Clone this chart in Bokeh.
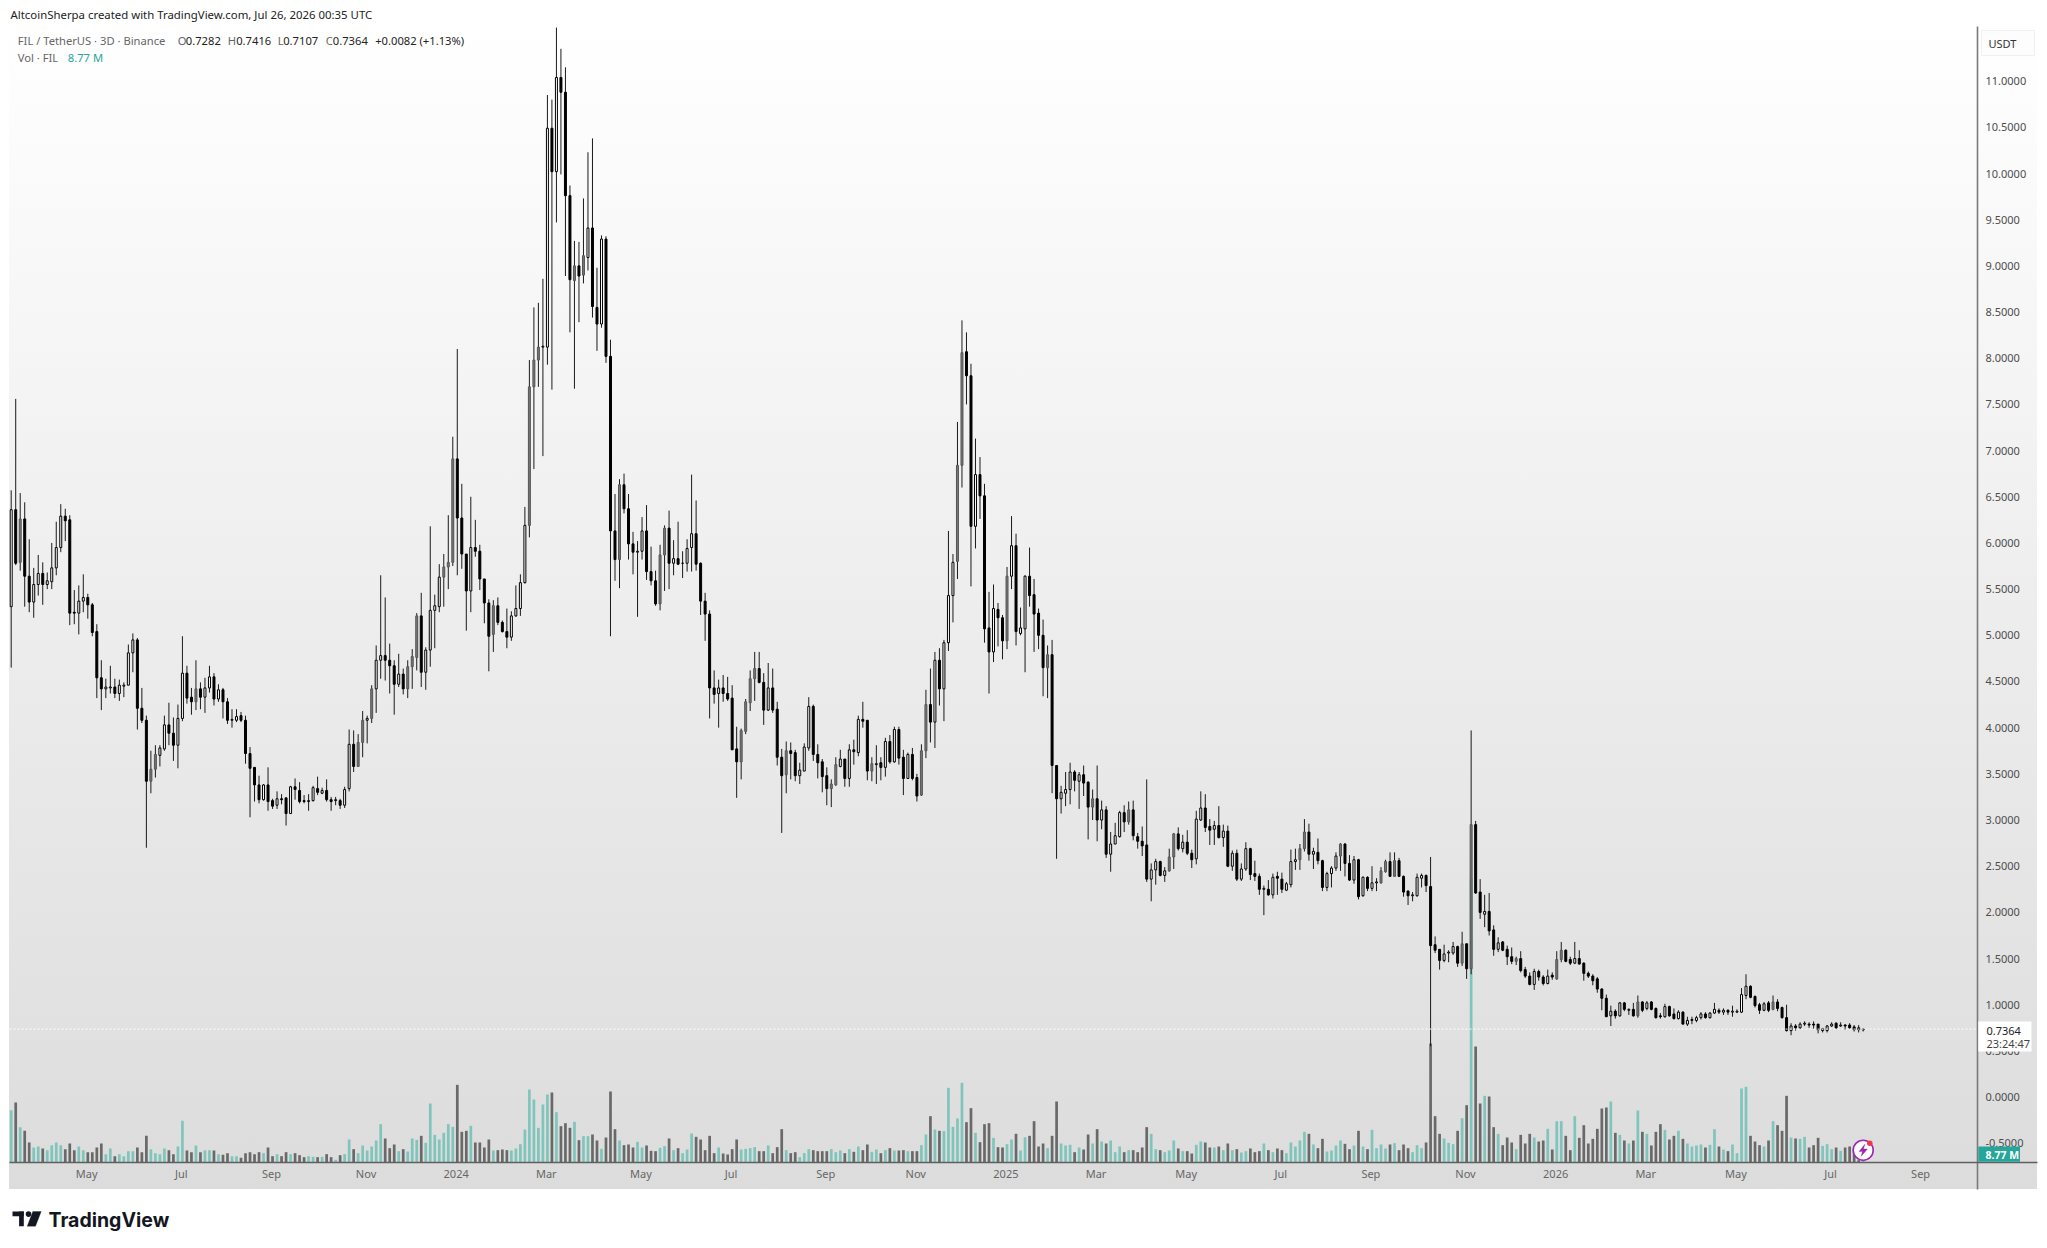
from bokeh.plotting import figure
from bokeh.models import (ColumnDataSource, Range1d, LinearAxis, FixedTicker, NumeralTickFormatter,
                          Label, BoxAnnotation, PolyAnnotation)
from bokeh.embed import file_html
from bokeh.resources import INLINE

opens = [
 5.31,6.36,5.79,6.26,5.64,5.36,5.55,5.67,5.55,5.58, 5.73,5.95,6.29,6.25,5.25,5.24,5.37,5.41,5.33,5.04,
 4.54,4.42,4.43,4.44,4.37,4.45,4.46,4.81,4.95,4.21, 4.08,3.42,3.55,3.70,3.77,4.03,3.94,3.81,4.10,4.59,
 4.33,4.28,4.42,4.33,4.43,4.55,4.31,4.41,4.28,4.08, 4.08,4.13,4.08,3.72,3.57,3.38,3.22,3.38,3.21,3.16,
 3.23,3.24,3.07,3.36,3.32,3.21,3.20,3.21,3.34,3.29, 3.32,3.22,3.21,3.21,3.16,3.34,3.82,3.58,3.84,4.08,
 4.10,4.42,4.73,4.78,4.73,4.67,4.47,4.58,4.42,4.66, 4.76,5.21,4.60,4.84,5.27,5.31,5.63,5.74,5.79,6.91,
 6.27,5.88,5.48,5.95,5.91,5.61,5.35,5.01,5.32,
 5.14,5.04,4.98,5.21,5.29,5.57,6.19,7.69,7.98,8.12, 8.12,10.49,10.02,11.04,10.88,9.76,8.84,9.00,8.90,9.09,
 9.41,8.55,8.37,9.29,8.02,6.13,5.82,6.63,6.37,5.99, 5.90,5.91,6.13,5.69,5.59,5.34,5.87,6.16,5.78,5.83,
 5.78,5.78,5.95,6.10,5.78,5.37,
 5.23,4.43,4.37,4.43,4.37,4.32,3.77,3.63,3.96,4.27, 4.53,4.64,4.49,4.19,4.43,4.20,3.68,3.49,3.75,3.73,
 3.48,3.53,3.78,4.23,3.71,3.63,3.48,3.34,3.38,3.58, 3.66,3.45,3.76,3.73,4.09,4.08,3.53,3.60,3.62,3.57,
 3.85,3.63,3.98,3.68,3.45,3.71,3.46,3.27,3.75,4.25, 4.06,4.73,4.42,
 4.92,5.43,5.80,6.84,8.07,7.81,6.18,6.74,6.51,5.08, 4.82,5.28,5.19,4.94,5.64,5.97,5.02,5.07,5.64,5.44,
 5.24,5.00,4.65,4.79,3.59,3.23,3.29,3.33,3.52,3.42, 3.49,3.41,3.14,3.23,3.00,3.11,2.63,2.74,2.82,3.08,
 2.98,3.11,2.82,2.77,2.73,2.36,2.46,2.55,2.40,2.45, 2.60,2.85,2.69,2.76,2.64,2.58,3.00,3.13,2.93,2.90,
 2.94,2.81,2.88,2.50,2.64,2.36,2.47,2.69,2.42,2.39, 2.25,2.25,2.19,2.39,2.36,2.24,2.30,2.55,2.57,2.69,
 2.87,2.63,2.65,2.56,2.27,2.42,2.48,2.61,2.74,2.53, 2.35,2.57,2.18,2.38,2.26,2.32,2.32,2.44,2.55,2.39,2.56,
 2.39,2.23,2.18,2.18,2.37,2.40,2.28,1.65,1.60,1.48, 1.56,1.56,1.63,1.45,1.66,1.39,2.95,2.22,1.98,2.01,
 1.81,1.60,1.68,1.60,1.52,1.47,1.50,1.38,1.31,1.22, 1.36,1.30,1.23,1.32,1.28,1.49,1.59,1.49,1.45,1.50,
 1.45,1.34,1.31,1.28,1.17,1.07,0.88,0.93,0.88,1.02, 0.94,0.95,0.88,1.03,0.96,1.03,0.96,0.88,0.87,0.98,
 0.90,0.85,0.92,0.79,0.83,0.83,0.86,0.90,0.86,0.91, 0.94,0.92,0.94,0.92,0.92,0.92,1.10,1.20,1.09,1.00,
 0.94,1.02,0.95,1.03,0.97,0.86,0.72,0.77,0.75,0.79, 0.79,0.79,0.79,0.72,0.72,0.77,0.80,0.77,0.78,0.78,
 0.76,0.75,0.7282]

highs = [
 6.57,7.56,6.54,6.44,6.04,5.73,5.87,5.79,5.68,6.00, 6.23,6.42,6.37,6.30,5.49,5.54,5.66,5.45,5.35,5.12,
 4.73,4.53,4.67,4.53,4.52,4.49,4.90,5.02,4.97,4.43, 4.13,3.75,3.81,3.81,4.13,4.27,4.11,4.25,4.99,4.67,
 4.43,4.73,4.49,4.54,4.67,4.59,4.47,4.43,4.32,4.20, 4.20,4.17,4.13,3.79,3.57,3.48,3.39,3.57,3.23,3.31,
 3.28,3.24,3.37,3.45,3.41,3.27,3.28,3.37,3.47,3.35, 3.44,3.25,3.25,3.23,3.36,3.98,3.97,3.93,4.18,4.13,
 4.46,4.89,5.65,5.41,4.91,4.73,4.80,4.64,4.73,4.85, 5.24,5.46,4.87,6.18,5.44,5.77,5.88,6.30,7.15,8.10,
 6.64,5.88,6.50,6.25,5.98,5.61,5.39,5.38,5.41,
 5.16,5.29,5.26,5.54,5.66,6.39,7.98,8.55,8.60,8.86, 10.85,10.80,11.58,11.35,11.15,9.87,9.27,9.26,9.73,10.23,
 10.38,8.98,9.33,9.32,8.20,6.53,6.69,6.75,6.53,6.12, 6.02,6.28,6.41,5.96,5.70,5.98,6.19,6.35,6.03,6.23,
 5.91,6.04,6.74,6.46,5.79,5.46,
 5.27,4.62,4.52,4.57,4.55,4.46,4.01,3.99,4.31,4.62, 4.82,4.82,4.59,4.70,4.64,4.28,3.77,3.85,3.84,3.76,
 3.62,3.83,4.33,4.25,3.82,3.66,3.57,3.44,3.68,3.76, 3.66,3.82,3.87,4.13,4.28,4.08,3.68,3.81,3.68,3.89,
 3.92,4.01,4.01,3.76,3.73,3.78,3.50,3.82,4.41,4.64, 4.82,4.86,4.95,
 6.13,5.88,7.31,8.41,8.28,7.94,7.13,6.93,6.64,5.47, 5.55,5.35,5.22,5.74,6.29,6.10,5.30,5.65,5.95,5.61,
 5.29,5.17,4.89,4.95,3.59,3.37,3.52,3.62,3.54,3.52, 3.59,3.42,3.33,3.59,3.21,3.15,2.87,2.97,3.10,3.16,
 3.20,3.21,2.86,2.93,3.44,2.53,2.58,2.56,2.49,2.69, 2.86,2.92,2.84,2.89,2.68,3.10,3.31,3.28,3.01,2.99,
 3.15,2.95,2.94,2.67,2.68,2.53,2.76,2.70,2.56,2.42, 2.29,2.35,2.42,2.44,2.43,2.33,2.68,2.69,2.74,3.01,
 2.96,2.70,2.80,2.57,2.44,2.50,2.65,2.75,2.75,2.62, 2.61,2.58,2.39,2.39,2.50,2.37,2.49,2.57,2.65,2.65,2.59,
 2.40,2.24,2.22,2.42,2.42,2.41,2.60,1.74,1.60,1.65, 1.59,1.68,1.64,1.79,1.66,3.97,2.99,2.36,2.19,2.21,
 1.86,1.73,1.69,1.64,1.62,1.52,1.58,1.41,1.35,1.39, 1.38,1.32,1.38,1.35,1.58,1.68,1.60,1.52,1.68,1.59,
 1.46,1.36,1.33,1.30,1.18,1.11,0.99,0.95,1.03,1.03, 0.96,1.02,1.10,1.04,1.04,1.04,0.97,0.91,1.01,0.99,
 0.96,0.94,0.93,0.87,0.87,0.88,0.92,0.92,0.92,1.02, 0.96,0.96,0.95,0.99,0.95,1.18,1.33,1.21,1.10,1.02,
 1.03,1.04,1.10,1.06,0.98,1.00,0.80,0.79,0.81,0.82, 0.81,0.82,0.79,0.75,0.78,0.81,0.81,0.81,0.79,0.80,
 0.78,0.78,0.7416]

lows = [
 4.65,5.76,5.70,5.31,5.25,5.19,5.43,5.33,5.50,5.50, 5.65,5.90,6.02,5.11,5.12,5.01,5.25,5.18,4.99,4.32,
 4.19,4.32,4.37,4.32,4.29,4.33,4.46,4.60,3.98,4.05, 2.70,3.29,3.46,3.58,3.75,3.81,3.64,3.56,4.07,4.26,
 4.14,4.19,4.20,4.16,4.38,4.24,4.28,4.10,4.04,4.00, 4.06,4.06,3.61,3.03,3.20,3.18,3.21,3.10,3.12,3.12,
 3.17,2.94,3.07,3.22,3.18,3.18,3.10,3.20,3.27,3.28, 3.20,3.10,3.16,3.12,3.13,3.31,3.52,3.58,3.68,3.83,
 4.05,4.16,4.53,4.51,4.37,4.14,4.44,4.36,4.32,4.42, 4.62,4.44,4.41,4.66,4.86,5.25,5.31,5.50,5.75,5.65,
 5.72,5.05,5.25,5.85,5.49,5.13,4.61,4.82,5.11,
 5.03,4.86,4.94,5.20,5.21,5.56,6.06,6.80,7.69,6.94, 7.93,7.66,9.47,9.99,8.89,8.28,7.67,8.39,8.81,8.95,
 8.44,8.08,8.33,7.95,4.99,5.59,5.51,6.32,5.82,5.66, 5.20,5.82,5.60,5.54,5.32,5.27,5.48,5.50,5.65,5.76,
 5.62,5.69,5.69,5.70,5.22,4.94,
 4.10,4.26,4.00,4.28,4.29,3.76,3.24,3.44,3.93,4.18, 4.29,4.48,4.03,4.18,4.16,3.59,2.86,3.29,3.44,3.42,
 3.39,3.53,3.75,3.64,3.45,3.30,3.16,3.14,3.37,3.57, 3.36,3.36,3.60,3.69,4.00,3.43,3.42,3.39,3.43,3.47,
 3.61,3.62,3.60,3.27,3.45,3.43,3.20,3.26,3.67,3.84, 3.78,4.24,4.07,
 4.83,5.14,5.61,6.60,7.50,5.53,5.94,6.26,4.92,4.37, 4.71,4.88,4.74,4.85,5.50,4.89,5.00,4.60,5.31,4.82,
 4.85,4.34,4.32,3.29,2.58,3.07,3.15,3.17,3.31,3.12, 3.26,2.79,3.00,2.77,2.90,2.59,2.44,2.74,2.81,2.87,
 2.95,2.78,2.69,2.61,2.33,2.12,2.30,2.39,2.33,2.44, 2.47,2.67,2.65,2.62,2.48,2.52,2.99,2.87,2.73,2.73,
 2.80,2.71,2.49,2.45,2.34,2.34,2.45,2.35,2.34,2.19, 1.97,2.18,2.15,2.19,2.21,2.23,2.27,2.46,2.46,2.66,
 2.56,2.47,2.52,2.23,2.23,2.27,2.45,2.45,2.39,2.34, 2.31,2.14,2.17,2.23,2.23,2.23,2.31,2.43,2.39,2.39,2.39,
 2.17,2.08,2.12,2.17,2.27,2.22,0.55,1.56,1.38,1.46, 1.46,1.54,1.41,1.42,1.28,1.33,2.20,1.93,1.84,1.75,
 1.53,1.57,1.58,1.43,1.44,1.43,1.35,1.29,1.21,1.16, 1.26,1.21,1.22,1.27,1.27,1.46,1.46,1.43,1.44,1.44,
 1.26,1.29,1.21,1.13,0.94,0.87,0.77,0.85,0.87,0.93, 0.89,0.87,0.86,0.92,0.94,0.94,0.85,0.85,0.86,0.87,
 0.84,0.84,0.79,0.77,0.79,0.81,0.84,0.85,0.85,0.90, 0.90,0.89,0.89,0.87,0.91,0.91,1.06,1.07,0.97,0.90,
 0.93,0.92,0.94,0.93,0.85,0.71,0.67,0.72,0.74,0.77, 0.75,0.74,0.69,0.70,0.70,0.76,0.74,0.76,0.73,0.74,
 0.71,0.70,0.7107]

closes = [
 6.36,5.78,6.26,5.64,5.36,5.55,5.67,5.55,5.59,5.73, 5.95,6.29,6.24,5.24,5.24,5.37,5.41,5.33,5.03,4.54,
 4.42,4.44,4.44,4.37,4.46,4.46,4.81,4.95,4.21,4.08, 3.42,3.55,3.71,3.78,4.03,3.94,3.81,4.10,4.59,4.32,
 4.28,4.42,4.33,4.43,4.55,4.31,4.41,4.28,4.08,4.09, 4.12,4.08,3.72,3.56,3.38,3.22,3.38,3.20,3.15,3.23,
 3.22,3.07,3.36,3.33,3.20,3.20,3.21,3.35,3.30,3.32, 3.22,3.20,3.22,3.16,3.33,3.82,3.58,3.84,4.08,4.10,
 4.42,4.73,4.78,4.73,4.67,4.47,4.58,4.42,4.66,4.77, 5.21,4.60,4.84,5.27,5.32,5.63,5.74,5.79,6.91,6.27,
 5.88,5.48,5.95,5.91,5.61,5.35,4.99,5.32,5.14,
 5.04,4.98,5.21,5.29,5.57,6.19,7.69,7.98,8.12,8.13, 10.49,10.02,11.04,10.88,9.76,8.85,9.00,8.89,9.11,9.41,
 8.56,8.37,9.29,8.02,6.13,5.82,6.63,6.37,5.99,5.90, 5.91,6.13,5.69,5.59,5.34,5.87,6.16,5.78,5.83,5.77,
 5.78,5.94,6.10,5.77,5.37,5.23,
 4.43,4.36,4.43,4.37,4.31,3.76,3.63,3.97,4.28,4.53, 4.64,4.49,4.19,4.43,4.19,3.68,3.48,3.75,3.72,3.48,
 3.54,3.79,4.23,3.71,3.62,3.47,3.34,3.39,3.60,3.66, 3.45,3.76,3.74,4.09,4.07,3.53,3.61,3.61,3.57,3.85,
 3.63,3.98,3.67,3.45,3.71,3.45,3.26,3.75,4.25,4.06, 4.73,4.42,4.92,
 5.43,5.79,6.84,8.06,7.81,6.18,6.74,6.51,5.07,4.82, 5.29,5.19,4.94,5.64,5.97,5.04,5.08,5.64,5.43,5.23,
 5.00,4.65,4.79,3.59,3.23,3.30,3.33,3.52,3.43,3.49, 3.40,3.14,3.23,3.00,3.11,2.63,2.74,2.83,3.08,2.98,
 3.11,2.83,2.77,2.72,2.36,2.46,2.55,2.40,2.45,2.60, 2.85,2.69,2.76,2.64,2.57,3.01,3.13,2.92,2.89,2.94,
 2.81,2.88,2.50,2.64,2.36,2.47,2.69,2.41,2.39,2.25, 2.26,2.19,2.38,2.37,2.25,2.31,2.55,2.57,2.69,2.87,
 2.63,2.66,2.56,2.27,2.42,2.48,2.61,2.74,2.53,2.35, 2.57,2.17,2.38,2.26,2.32,2.33,2.45,2.55,2.39,2.56,2.39,
 2.22,2.18,2.19,2.38,2.40,2.29,1.64,1.59,1.48,1.55, 1.57,1.63,1.45,1.66,1.39,2.95,2.21,2.00,2.01,1.80,
 1.60,1.67,1.59,1.52,1.47,1.50,1.37,1.31,1.22,1.36, 1.30,1.23,1.31,1.30,1.49,1.59,1.47,1.45,1.50,1.44,
 1.34,1.31,1.26,1.17,1.07,0.87,0.93,0.88,1.02,0.95, 0.95,0.88,1.03,0.94,1.02,0.95,0.86,0.87,0.98,0.88,
 0.85,0.92,0.79,0.83,0.84,0.86,0.90,0.86,0.91,0.95, 0.92,0.94,0.92,0.93,0.93,1.11,1.20,1.08,0.99,0.94,
 1.01,0.94,1.03,0.96,0.86,0.72,0.77,0.75,0.79,0.80, 0.78,0.78,0.73,0.74,0.77,0.79,0.75,0.78,0.77,0.75,
 0.73,0.73,0.7364]

volume_m = [
 157,180,106,95,60,45,48,42,37,52, 60,52,40,57,37,48,37,31,31,45, 57,25,42,19,25,19,34,34,45,31,
 80,40,28,25,42,37,25,48,125,36, 31,51,31,37,37,36,25,23,28,19, 19,14,28,31,25,31,28,45,19,25,
 19,31,25,28,22,16,19,17,16,17, 25,16,8,22,25,69,40,28,51,36, 48,66,115,72,43,54,34,40,33,72,
 68,80,59,177,83,69,89,115,107,233, 92,95,110,60,60,45,69,36,37,
 39,37,36,42,55,99,219,189,104,174, 204,210,151,109,118,104,122,67,79,79, 84,66,41,75,213,
 100,66,52,54,45,62,45,51,35,34, 44,49,72,37,43,28,39,87,77,69, 37,80,28,45,27,24,40,69,39,41,
 43,46,34,34,51,28,46,100,37,28, 31,16,28,40,37,34,34,34,40,31, 36,28,40,32,48,37,54,32,39,28,
 37,43,36,36,37,34,34,34,52,84, 139,99,95,94,224,107,132,239,121,163, 89,61,115,118,74,46,
 45,55,69,86,36,76,80,124,48,57, 43,80,183,57,51,53,31,45,39,84, 57,100,63,57,66,31,48,31,37,37,
 31,45,106,86,40,37,31,36,66,42, 34,34,27,53,63,60,45,45,48,37, 57,37,40,30,34,42,31,34,57,37,
 31,42,37,28,60,48,66,92,86,54, 43,71,33,36,51,66,56,40,51,95, 48,40,98,43,54,42,54,58,37,54,
 43,31,52,43,60,357,139,86,72,59, 55,95,133,172,852,348,177,200,198,106, 86,52,75,60,40,83,57,86,75,63,
 66,101,39,124,124,80,37,139,74,112, 57,71,101,162,165,183,89,83,66,57, 66,156,92,86,51,92,115,98,69,80,
 95,71,57,48,51,54,45,53,100,48, 39,34,54,28,222,227,80,63,52,48, 66,124,112,95,200,
 75,72,71,77,45,52,74,50,55,40,45,35,45,48,42,7,8.77]

shaded_up_bars = [2,31,32,41,77,78,80,88,89,90,96,97,98,107,115,116,117,125,127,135,144,145,162,163,164,165,172,
                  182,183,191,202,203,210,211,221,230,240,248,257,258,286,287,295,304,305,307,322,324,334,343,344,361,391]

time_ticks = [16.75,37.75,57.75,78.75,98.75,118.75,139.75,159.75,180.75,200.75,220.75,240.75,260.75,281.75,301.75,322.75,342.75,362.75,382.75,403.75,423.75]
time_labels = ["May","Jul","Sep","Nov","2024","Mar","May","Jul","Sep","Nov","2025","Mar","May","Jul","Sep","Nov","2026","Mar","May","Jul","Sep"]
price_ticks = [-0.5,0,0.5,1,1.5,2,2.5,3,3.5,4,4.5,5,5.5,6,6.5,7,7.5,8,8.5,9,9.5,10,10.5,11]
last_close = closes[-1]

assert len(opens)==len(highs)==len(lows)==len(closes)==412, (len(opens),len(highs),len(lows),len(closes))
assert len(volume_m)==412, len(volume_m)

# page pixel -> axis helpers, for decoration placed around the chart
X0, DX = 10.7, 4.506
Y0, DY = 1096.6, 92.36
def nx(px): return (px - X0) / DX
def py(px): return (Y0 - px) / DY

L, R, T, B, PB = 9, 1977, 26, 1162, 1189   # plot box
FIG_W, FIG_H = 2040, 1240
p = figure(width=FIG_W, height=FIG_H, output_backend="svg", toolbar_location=None,
           x_range=Range1d(nx(0), nx(FIG_W)), y_range=Range1d(py(FIG_H), py(0)),
           x_axis_location=None, y_axis_location=None,
           min_border_left=0, min_border_right=0, min_border_top=0, min_border_bottom=0,
           background_fill_color=None, border_fill_color=None, outline_line_color=None)
p.styles = {"background-image": "linear-gradient(180deg,#ffffff,#dcdcdc)",
            "background-repeat": "no-repeat", "background-size": f"{2037-L}px {PB-T}px",
            "background-position": f"{L}px {T}px"}
p.grid.visible = False

ax = LinearAxis(fixed_location=nx(R), ticker=FixedTicker(ticks=price_ticks), formatter=NumeralTickFormatter(format="0.0000"))
ax.major_tick_line_color = None; ax.minor_tick_line_color = None; ax.axis_line_color = None
ax.major_label_text_color = "#4d4d4d"; ax.major_label_text_font = "Noto Sans"
ax.major_label_text_font_size = "11px"; ax.major_label_standoff = 2
p.add_layout(ax, "right")

bx = LinearAxis(fixed_location=py(B-9), ticker=FixedTicker(ticks=time_ticks))
bx.major_label_overrides = {t: s for t, s in zip(time_ticks, time_labels)}
bx.major_tick_line_color = None; bx.minor_tick_line_color = None; bx.axis_line_color = None
bx.major_label_text_color = "#666666"; bx.major_label_text_font = "Noto Sans"
bx.major_label_text_font_size = "11px"; bx.major_label_standoff = 6
p.add_layout(bx, "below")

# volume on its own scale, baseline on the plot-box line
p.extra_y_ranges = {"vol": Range1d((B - FIG_H) * 3.0, B * 3.0)}
n = list(range(len(closes)))
teal, dark = "#7fc5bc", "#696969"
vol_src = ColumnDataSource(dict(x=n, v=volume_m, c=[teal if closes[i] >= opens[i] else dark for i in n]))
p.vbar(x="x", top="v", bottom=0, width=0.6, fill_color="c", line_color=None, source=vol_src, y_range_name="vol")

shaded = set(shaded_up_bars)
src = ColumnDataSource(dict(
    x=n, o=opens, h=highs, l=lows, c=closes,
    top=[max(opens[i], closes[i]) for i in n], bot=[min(opens[i], closes[i]) for i in n],
    fill=[("#777777" if i in shaded else "#ffffff") if closes[i] >= opens[i] else "#000000" for i in n],
    line=["#555555" if i in shaded else "#000000" for i in n]))
p.segment(x0="x", x1="x", y0="l", y1="h", line_color="#1a1a1a", line_width=1, source=src)
p.vbar(x="x", top="top", bottom="bot", width=0.44, fill_color="fill", line_color="line", line_width=1, source=src)

p.line([nx(L), nx(R)], [last_close, last_close], line_color="#ffffff", line_dash="2 2", line_width=1)

def box(l, r, t, b, fill, line=None, level="overlay"):
    p.add_layout(BoxAnnotation(left=nx(l), right=nx(r), top=py(t), bottom=py(b), fill_color=fill, fill_alpha=1,
                               line_color=line, line_alpha=1 if line else 0, level=level))
def label(px_x, px_y, text, color="#444444", size="11.5px", font="Noto Sans", align="left", style="normal"):
    p.add_layout(Label(x=nx(px_x), y=py(px_y), text=text, text_color=color, text_font=font, text_font_size=size,
                       text_align=align, text_baseline="middle", text_font_style=style, level="overlay"))

# axis rules
box(R-0.8, R+0.8, T, PB, "#7a7a7a")
box(L, 2037, B-0.7, B+0.7, "#5f5f5f")

# header
label(10, 14, "AltcoinSherpa created with TradingView.com, Jul 26, 2026 00:35 UTC", "#222222", "11.4px")
for px_x, txt, col in [(17.3, "FIL / TetherUS · 3D · Binance", "#666666"), (177.3, "O", "#666666"), (185.3, "0.7282", "#222222"),
                       (227.3, "H", "#666666"), (235.7, "0.7416", "#222222"), (277.3, "L", "#666666"), (282.7, "0.7107", "#222222"),
                       (325.3, "C", "#666666"), (332.3, "0.7364", "#222222"), (374.7, "+0.0082 (+1.13%)", "#222222")]:
    label(px_x, 40, txt, col, "11.2px")
label(17.3, 56.5, "Vol · FIL", "#666666", "11.2px")
label(67.3, 56.5, "8.77 M", "#26a69a", "11.2px")

# scale box, price tag, volume tag
box(1981, 2034, 30, 55, "#fdfdfd", "#f0f0f0")
label(1988, 43, "USDT", "#333333", "11px")
box(R+0.8, 2031, 1021, 1051, "#ffffff")
label(1986, 1030, "0.7364", "#222222", "11px")
label(1986, 1043, "23:24:47", "#444444", "11px")
box(R+0.8, 2019.5, 1146, B-0.7, "#26a69a")
label(1985, 1154, "8.77 M", "#ffffff", "10.5px", style="bold")

# lightning badge
p.scatter([nx(1862.7)], [py(1149.7)], size=20, fill_color="#ffffff", line_color="#9c27b0", line_width=1.6)
p.add_layout(PolyAnnotation(xs=[nx(v) for v in (1864.5,1858.5,1862,1860.5,1867,1863)],
                            ys=[py(v) for v in (1143.5,1151,1151,1156,1148.5,1148.5)],
                            fill_color="#9c27b0", fill_alpha=1, line_color="#9c27b0", level="overlay"))
p.scatter([nx(1869.3)], [py(1142.8)], size=5.5, fill_color="#f23645", line_color=None)

# TradingView mark
box(12, 23.3, 1211, 1215.7, "#131722")
box(18.6, 23.3, 1211, 1225.7, "#131722")
p.scatter([nx(28)], [py(1213.6)], size=5.6, fill_color="#131722", line_color=None)
p.add_layout(PolyAnnotation(xs=[nx(v) for v in (32.3,40.7,35,26.7)], ys=[py(v) for v in (1211,1211,1225.7,1225.7)],
                            fill_color="#131722", fill_alpha=1, line_color="#131722", level="overlay"))
label(48, 1219, "TradingView", "#131722", "19.5px", font="Inter", style="bold")

open("out.html", "w").write(file_html(p, INLINE))
